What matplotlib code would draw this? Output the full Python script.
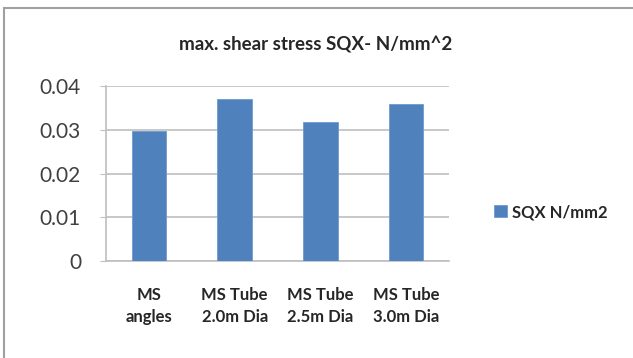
import matplotlib
matplotlib.use("Agg")
import matplotlib.pyplot as plt
from matplotlib.patches import Rectangle

categories = ["MS\nangles", "MS Tube\n2.0m Dia", "MS Tube\n2.5m Dia", "MS Tube\n3.0m Dia"]
values = [0.0297, 0.0370, 0.0318, 0.0359]
series_name = "SQX N/mm2"
yticks = [0, 0.01, 0.02, 0.03, 0.04]
ytick_labels = ["0", "0.01", "0.02", "0.03", "0.04"]
title = "max. shear stress SQX- N/mm^2"

W, H = 633, 358
fig = plt.figure(figsize=(W / 100, H / 100), dpi=100)
fig.patch.set_facecolor("white")

# outer chart frame (clipped at right/bottom)
fig.patches.append(Rectangle((4 / W, -0.05), 1.2, (H - 8) / H + 0.05, transform=fig.transFigure,
                             fill=False, edgecolor="#a0a0a0", linewidth=1.5))

ax = fig.add_axes([106 / W, 1 - 261 / H, (449 - 106) / W, (261 - 86) / H])
x = range(len(categories))
ax.bar(x, values, width=0.4, color="#4F81BD", edgecolor="#6f9bd1", linewidth=0.6,
       label=series_name, zorder=3)
ax.set_xlim(-0.5, len(categories) - 0.5)
ax.set_ylim(0, 0.04)
ax.set_yticks(yticks)
ax.set_yticklabels(ytick_labels, fontfamily="Lato", fontsize=15, color="#404040")
ax.set_xticks(list(x))
ax.set_xticklabels(categories, fontfamily="Lato", fontweight="bold", fontsize=12,
                   color="#262626", linespacing=1.45)
ax.grid(axis="y", color="#bfbfbf", linewidth=1.2, zorder=0)
for s in ["top", "right"]:
    ax.spines[s].set_visible(False)
for s in ["left", "bottom"]:
    ax.spines[s].set_color("#bfbfbf")
    ax.spines[s].set_linewidth(1.2)
ax.tick_params(axis="y", length=4, color="#bfbfbf", pad=14)
ax.tick_params(axis="x", length=0, pad=19)

fig.text(316 / W, 1 - 45 / H, title, ha="center", va="center", fontfamily="Lato",
         fontweight="bold", fontsize=13.5, color="#262626")

leg = fig.legend(loc="center left", bbox_to_anchor=(479 / W, 1 - 212 / H), frameon=False,
                 prop={"family": "Lato", "weight": "bold", "size": 12},
                 handlelength=0.75, handleheight=0.75, handletextpad=0.3)
for t in leg.get_texts():
    t.set_color("#262626")

fig.savefig("out.png", dpi=100, facecolor="white")
